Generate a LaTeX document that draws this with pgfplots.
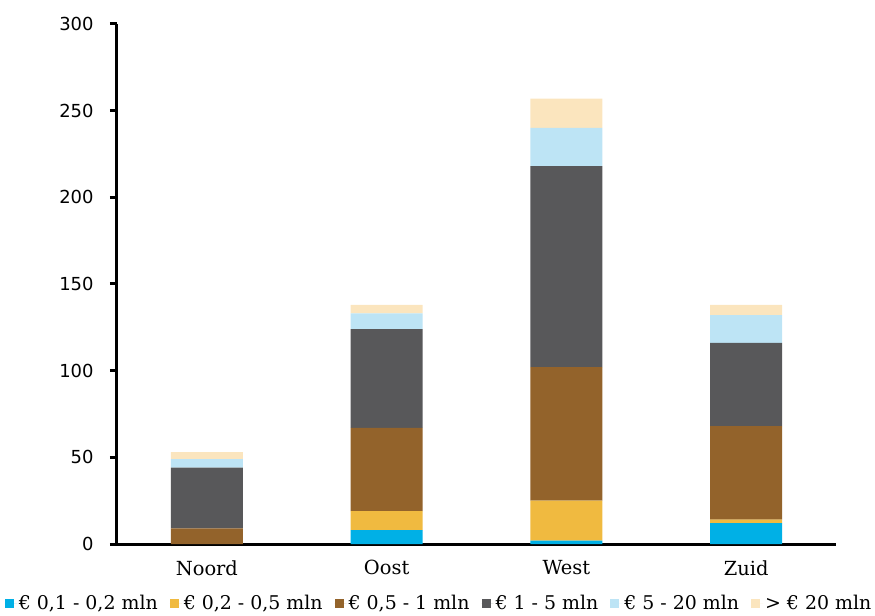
\documentclass[border=0pt]{standalone}
\usepackage{pgfplots}
\pgfplotsset{compat=1.18}
\usepackage{fontspec}
\setmainfont{DejaVu Serif}
\newfontfamily\tickfont{DejaVu Sans}
\definecolor{cA}{HTML}{00B0E6}
\definecolor{cB}{HTML}{F0BA40}
\definecolor{cC}{HTML}{93632B}
\definecolor{cD}{HTML}{58585A}
\definecolor{cE}{HTML}{BDE4F5}
\definecolor{cF}{HTML}{FBE5BE}
\begin{document}
\begin{tikzpicture}
\path[use as bounding box] (-117bp,-72bp) rectangle (758bp,544bp);
\begin{axis}[
  anchor=south west,
  scale only axis,
  width=719bp, height=520bp,
  xmin=-0.5, xmax=3.5, ymin=0, ymax=300,
  ybar stacked, bar width=72bp,
  axis x line*=bottom, axis y line*=left,
  x axis line style={line width=3bp, -},
  y axis line style={line width=3bp, -},
  xtick={0,1,2,3},
  xticklabels={Noord,Oost,West,Zuid},
  x tick style={draw=none},
  minor xtick={-0.5,0.5,1.5,2.5,3.5},
  minor x tick style={line width=3bp, black},
  minor tick length=7bp,
  ytick={0,50,100,150,200,250,300},
  y tick style={line width=3bp, black},
  major tick length=7bp,
  tick align=outside,
  /pgf/number format/assume math mode=true,
  yticklabel style={font=\tickfont\fontsize{18}{20}\selectfont, xshift=-13bp},
  xticklabel style={font=\fontsize{19.5}{22}\selectfont, yshift=-6bp},
  legend columns=6,
  legend style={draw=none, at={(0.448,-0.1135)}, anchor=center,
    font=\fontsize{19}{22}\selectfont,
    /tikz/every even column/.append style={column sep=10bp},
    inner sep=0pt, cells={anchor=west}},
  legend image code/.code={\fill[#1] (0bp,-4.5bp) rectangle (9bp,4.5bp); \path (0bp,0bp) -- (12bp,0bp);},
]
\addplot[fill=cA, draw=none] coordinates {(0,0) (1,8) (2,2) (3,12)};
\addplot[fill=cB, draw=none] coordinates {(0,0) (1,11) (2,23) (3,2)};
\addplot[fill=cC, draw=none] coordinates {(0,9) (1,48) (2,77) (3,54)};
\addplot[fill=cD, draw=none] coordinates {(0,35) (1,57) (2,116) (3,48)};
\addplot[fill=cE, draw=none] coordinates {(0,5) (1,9) (2,22) (3,16)};
\addplot[fill=cF, draw=none] coordinates {(0,4) (1,5) (2,17) (3,6)};
\legend{{€ 0,1 - 0,2 mln}, {€ 0,2 - 0,5 mln}, {€ 0,5 - 1 mln}, {€ 1 - 5 mln}, {€ 5 - 20 mln}, {> € 20 mln}}
\end{axis}
\end{tikzpicture}
\end{document}
